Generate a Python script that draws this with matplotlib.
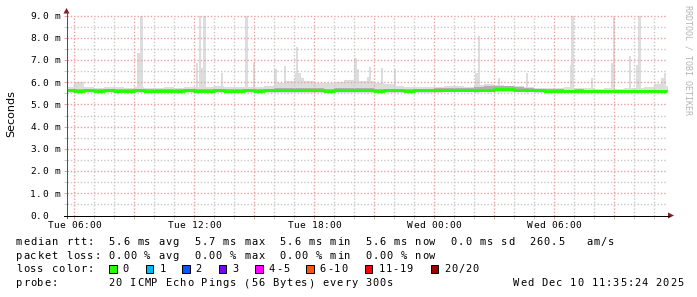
import numpy as np
import matplotlib
matplotlib.use('Agg')
import matplotlib.pyplot as plt
from matplotlib.patches import Polygon, Rectangle
from matplotlib.lines import Line2D
from matplotlib.ticker import MultipleLocator

W, H = 697, 297

# ==========================================
# DATA  (x = hours since Tue 00:00, y = milliseconds)
# ==========================================
bin_start = 5.5      # first 30 min bin starts Tue 05:30
bin_hours = 0.5

median_ms = [5.63, 5.62, 5.63, 5.62, 5.63, 5.62, 5.62, 5.63, 5.62, 5.61, 5.62,
             5.62, 5.63, 5.62, 5.62, 5.63, 5.62, 5.62, 5.63, 5.62, 5.63,
             5.63, 5.64, 5.64, 5.63, 5.63, 5.62, 5.63, 5.64, 5.63, 5.63,
             5.62, 5.63, 5.63, 5.62, 5.63, 5.63, 5.64, 5.65, 5.64, 5.65,
             5.66, 5.67, 5.68, 5.68, 5.67, 5.66, 5.63, 5.62, 5.62, 5.61,
             5.62, 5.61, 5.61, 5.60, 5.60, 5.61, 5.60, 5.60, 5.60, 5.61]

smoke_lo = [5.52, 5.52, 5.53, 5.52, 5.52, 5.53, 5.52, 5.52, 5.53, 5.52, 5.52,
            5.52, 5.53, 5.52, 5.52, 5.52, 5.53, 5.52, 5.52, 5.52, 5.53,
            5.52, 5.53, 5.53, 5.52, 5.52, 5.52, 5.53, 5.53, 5.52, 5.52,
            5.52, 5.52, 5.53, 5.52, 5.52, 5.53, 5.53, 5.54, 5.54, 5.55,
            5.55, 5.56, 5.57, 5.57, 5.56, 5.55, 5.53, 5.52, 5.52, 5.51,
            5.52, 5.51, 5.51, 5.50, 5.50, 5.51, 5.50, 5.50, 5.50, 5.51]

smoke_hi = [5.80, 6.00, 5.78, 5.75, 5.80, 5.78, 5.75, 5.80, 5.72, 5.75, 5.78,
            5.75, 5.80, 5.80, 5.78, 5.85, 5.78, 5.78, 5.80, 5.78, 5.85,
            5.95, 6.05, 6.20, 6.05, 5.95, 5.95, 6.00, 6.10, 6.05, 6.05,
            5.95, 5.90, 5.85, 5.80, 5.78, 5.80, 5.80, 5.85, 5.82, 5.80,
            5.88, 5.90, 5.88, 5.85, 5.85, 5.80, 5.75, 5.72, 5.75, 5.78,
            5.72, 5.75, 5.70, 5.72, 5.70, 5.75, 5.72, 5.78, 5.90, 5.85]

dark_hi = [5.69, 5.69, 5.70, 5.69, 5.70, 5.69, 5.69, 5.70, 5.69, 5.68, 5.69,
           5.69, 5.70, 5.69, 5.69, 5.70, 5.69, 5.69, 5.70, 5.69, 5.71,
           5.72, 5.75, 5.76, 5.73, 5.72, 5.70, 5.72, 5.75, 5.73, 5.72,
           5.69, 5.70, 5.70, 5.69, 5.70, 5.70, 5.72, 5.74, 5.73, 5.75,
           5.80, 5.82, 5.83, 5.82, 5.80, 5.76, 5.70, 5.68, 5.68, 5.67,
           5.68, 5.67, 5.67, 5.66, 5.66, 5.67, 5.66, 5.66, 5.66, 5.67]

# single ping outliers (time of the step, highest ping)
spike_hours = [9.21, 9.36, 12.14, 12.29, 12.41, 12.51, 13.39, 14.61, 14.99,
               16.06, 16.53, 17.11, 17.14, 17.26, 19.89, 20.06, 20.19, 20.69,
               20.79, 21.39, 22.04, 26.11, 26.24, 27.24, 28.64, 30.84, 30.91,
               31.89, 32.89, 32.99, 33.79, 34.16, 34.26, 35.41, 35.54]
spike_top = [7.33, 9.10, 6.88, 9.10, 6.64, 9.10, 6.43, 9.10, 6.87,
             6.60, 6.73, 6.42, 7.59, 6.40, 6.10, 7.10, 6.60, 6.25,
             6.69, 6.64, 6.60, 6.40, 8.09, 6.20, 6.40, 6.78, 9.10,
             6.20, 6.88, 9.10, 7.18, 6.78, 9.10, 6.20, 6.40]

x_tick_hours = [6, 12, 18, 24, 30]
x_tick_labels = ["Tue 06:00", "Tue 12:00", "Tue 18:00", "Wed 00:00", "Wed 06:00"]
y_tick_vals = [0, 1, 2, 3, 4, 5, 6, 7, 8, 9]
y_tick_labels = ["0.0", "1.0 m", "2.0 m", "3.0 m", "4.0 m", "5.0 m",
                 "6.0 m", "7.0 m", "8.0 m", "9.0 m"]

loss_labels = ["0", "1", "2", "3", "4-5", "6-10", "11-19", "20/20"]
loss_colors = ["#26ff00", "#00b8ff", "#0059ff", "#7e00ff", "#ff00ff",
               "#ff5500", "#ff0000", "#a10000"]

legend_rows = [
    "median rtt:  5.6 ms avg  5.7 ms max  5.6 ms min  5.6 ms now  0.0 ms sd  260.5   am/s",
    "packet loss: 0.00 % avg  0.00 % max  0.00 % min  0.00 % now",
    "loss color:",
    "probe:       20 ICMP Echo Pings (56 Bytes) every 300s",
]
stamp = "Wed Dec 10 11:35:24 2025"

MONO = 'DejaVu Sans Mono'


def fx(px):
    return px / W


def fy(py):
    return 1 - py / H


fig = plt.figure(figsize=(W / 100, H / 100), dpi=100)
fig.patch.set_facecolor('white')


def spaced_text(x0, y_base, s, pitch, size, color='black'):
    """rrdtool draws its mono font on a wider pitch than matplotlib, so place chars one by one."""
    for i, ch in enumerate(s):
        if ch != ' ':
            fig.text(fx(x0 + (i + 0.5) * pitch), fy(y_base), ch, ha='center',
                     va='baseline', family=MONO, fontsize=size, color=color)


ax = fig.add_axes([fx(67), fy(215.5), 600 / W, 200 / H])
ax.set_xlim(5.635, 35.635)
ax.set_ylim(0, 9.0)

# ---- smoke ----
t = bin_start + bin_hours * np.arange(len(median_ms) + 1)
ext = lambda a: np.append(a, a[-1])
ax.fill_between(t, ext(smoke_lo), ext(smoke_hi), step='post', color='#dddddd', lw=0, zorder=1)
ax.bar(spike_hours, np.array(spike_top) - 5.52, bottom=5.52, width=0.12,
       color='#dddddd', lw=0, zorder=1)
ax.fill_between(t, ext(np.array(median_ms) - 0.04), ext(dark_hi), step='post',
                color='#b0b0b0', lw=0, zorder=1.1)
ax.step(t, ext(median_ms), where='post', color='#26ff00', lw=2.16, zorder=3)

# ---- grid (dotted) ----
ax.xaxis.set_major_locator(MultipleLocator(3))
ax.xaxis.set_minor_locator(MultipleLocator(1))
ax.yaxis.set_major_locator(MultipleLocator(1))
ax.yaxis.set_minor_locator(MultipleLocator(0.5))
ax.tick_params(which='major', length=2, width=0.72, color='#eaa8a8', labelleft=False, labelbottom=False)
ax.tick_params(which='minor', length=2, width=0.72, color='#cccccc')
for s in ax.spines.values():
    s.set_visible(False)

# draw grid as explicit dotted lines on the axis tick positions
x0, x1 = ax.get_xlim()
y0, y1 = ax.get_ylim()
for major, col in ((False, '#c8c8c8'), (True, '#eaa0a0')):
    xs = ax.xaxis.get_majorticklocs() if major else ax.xaxis.get_minorticklocs()
    ys = ax.yaxis.get_majorticklocs() if major else ax.yaxis.get_minorticklocs()
    for xv in xs:
        if x0 < xv < x1:
            ax.plot([xv, xv], [y0, y1], color=col, lw=1.0, dashes=(1.0, 1.4),
                    zorder=1.5, dash_capstyle='butt')
    for yv in ys:
        if y0 < yv <= y1:
            ax.plot([x0, x1], [yv, yv], color=col, lw=1.0, dashes=(1.0, 1.4),
                    zorder=1.5, dash_capstyle='butt', clip_on=False)

# ---- axes + arrows ----
fig.add_artist(Line2D([fx(66.5), fx(66.5)], [fy(218), fy(12)], color='#505050', lw=0.72))
fig.add_artist(Line2D([fx(64), fx(669)], [fy(215.5), fy(215.5)], color='black', lw=0.72))
fig.add_artist(Polygon([(fx(63.5), fy(13.5)), (fx(69.5), fy(13.5)), (fx(66.5), fy(8))],
                       closed=True, color='#7f1f1f', lw=0))
fig.add_artist(Polygon([(fx(668), fy(212.5)), (fx(668), fy(218.5)), (fx(674), fy(215.5))],
                       closed=True, color='#7f1f1f', lw=0))

# ---- tick labels ----
lbl_pitch = 6.0
for v, lab in zip(y_tick_vals, y_tick_labels):
    y_px = H - ax.transData.transform((x0, v))[1]
    spaced_text(30, y_px + 3.4, lab, lbl_pitch, 6.8)
for h, lab in zip(x_tick_hours, x_tick_labels):
    x_px = ax.transData.transform((h, 0))[0]
    spaced_text(x_px - len(lab) * lbl_pitch / 2, 227.5, lab, lbl_pitch, 6.8)

fig.text(fx(11), fy(113.5), 'Seconds', rotation=90, ha='center', va='center', fontsize=8)
fig.text(fx(688), fy(60), 'RRDTOOL / TOBI OETIKER', rotation=270, ha='center', va='center',
         family=MONO, fontsize=6, color='#b4b4b4')

# ---- legend ----
pitch = 7.13
row_base = [245, 258.7, 272.3, 286]
for s, yb in zip(legend_rows, row_base):
    spaced_text(15.5, yb, s, pitch, 7.5)
spaced_text(512.5, row_base[3], stamp, pitch, 7.5)

bx = 109.3
for lab, col in zip(loss_labels, loss_colors):
    fig.add_artist(Rectangle((fx(bx), fy(272.5)), 7.3 / W, 7.3 / H, facecolor=col,
                             edgecolor='black', lw=0.72))
    spaced_text(bx + 13, row_base[2], lab, pitch, 7.5)
    bx += (len(lab) + 4) * 7.3

fig.savefig('out.png', dpi=100)
